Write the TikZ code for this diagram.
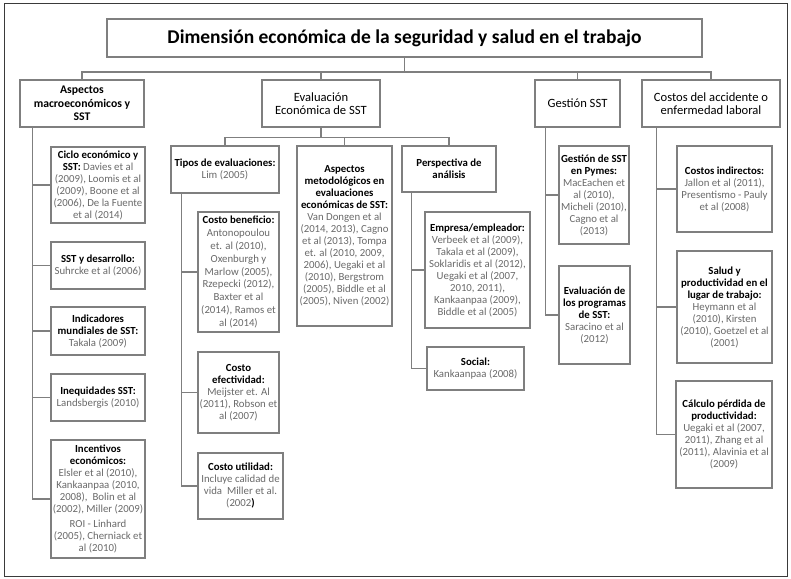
\documentclass[tikz,border=0pt]{standalone}
\usepackage{fontspec}
\setmainfont{Carlito}
\usepackage{tikz}
\usetikzlibrary{calc,positioning}

\definecolor{boxgrey}{HTML}{7F7F7F}
\definecolor{refgrey}{HTML}{6A6A6A}
\definecolor{framegrey}{HTML}{3A3A3A}
\newcommand{\bhead}[1]{\textbf{\color{black}#1}}

\begin{document}
\begin{tikzpicture}[x=1pt,y=-1pt]

\tikzset{titlebox/.style={draw=boxgrey,line width=1.5pt,fill=white,minimum width=595pt,minimum height=38pt,font=\fontsize{19.5}{22}\selectfont\bfseries},
mainbox/.style={draw=boxgrey,line width=1.5pt,fill=white,minimum height=47pt,align=center,inner sep=1pt,font=\fontsize{12.6}{13.5}\selectfont},
leafbox/.style={draw=boxgrey,line width=1.5pt,fill=white,align=center,inner sep=0.5pt,text=refgrey,font=\fontsize{10.8}{12}\selectfont},
link/.style={draw=boxgrey,line width=1.5pt}}

\useasboundingbox (0,0) rectangle (791,578);
\draw[framegrey,line width=1pt] (4,4) rectangle (787,576);

% Title
\node (title) [titlebox] at (404.5,38) {Dimensión económica de la seguridad y salud en el trabajo};

% Main branches
\node (macro) [mainbox,minimum width=124pt,font=\fontsize{11.7}{13.7}\selectfont\bfseries] at (82,103.5) {Aspectos\\macroeconómicos y\\SST};
\node (evaluacion) [mainbox,minimum width=118pt] at (321,103.5) {Evaluación\\Económica de SST};
\node (gestion) [mainbox,minimum width=85pt] at (577.5,103.5) {Gestión SST};
\node (costos) [mainbox,minimum width=138pt] at (711,103.5) {Costos del accidente o\\enfermedad laboral};

% Macro leaves
\node (ciclo) [leafbox,minimum width=94pt,minimum height=76pt] at (98,185) {\bhead{Ciclo económico y}\\\bhead{SST:} Davies et al\\(2009), Loomis et al\\(2009), Boone et al\\(2006), De la Fuente\\et al (2014)};
\node (desarrollo) [leafbox,minimum width=94pt,minimum height=47pt] at (98,265.5) {\bhead{SST y desarrollo:}\\Suhrcke et al (2006)};
\node (indicadores) [leafbox,minimum width=94pt,minimum height=48pt] at (98,331) {\bhead{Indicadores}\\\bhead{mundiales de SST:}\\Takala (2009)};
\node (inequidades) [leafbox,minimum width=94pt,minimum height=47pt] at (98,397.5) {\bhead{Inequidades SST:}\\Landsbergis (2010)};
\node (incentivos) [leafbox,minimum width=94pt,minimum height=118pt] at (98,499) {\bhead{Incentivos}\\\bhead{económicos:}\\Elsler et al (2010),\\Kankaanpaa (2010,\\2008),~ Bolin et al\\(2002), Miller (2009)\\[3pt]ROI - Linhard\\(2005), Cherniack et\\al (2010)};

% Evaluacion sub-branches
\node (tipos) [leafbox,minimum width=108pt,minimum height=47pt] at (225,169.5) {\bhead{Tipos de evaluaciones:}\\Lim (2005)};
\node (metodo) [leafbox,minimum width=95pt,minimum height=180pt] at (344.5,236) {\bhead{Aspectos}\\\bhead{metodológicos en}\\\bhead{evaluaciones}\\\bhead{económicas de SST:}\\Van Dongen et al\\(2014, 2013), Cagno\\et al (2013), Tompa\\et. al (2010, 2009,\\2006), Uegaki et al\\(2010), Bergstrom\\(2005), Biddle et al\\(2005), Niven (2002)};
\node (perspectiva) [leafbox,minimum width=94pt,minimum height=46pt] at (449,169) {\bhead{Perspectiva de}\\\bhead{análisis}};

% Tipos leaves
\node (beneficio) [leafbox,minimum width=81pt,minimum height=120pt,font=\fontsize{10.8}{12.8}\selectfont] at (238.5,272) {\bhead{Costo beneficio:}\\Antonopoulou\\et. al (2010),\\Oxenburgh y\\Marlow (2005),\\Rzepecki (2012),\\Baxter et al\\(2014), Ramos et\\al (2014)};
\node (efectividad) [leafbox,minimum width=81pt,minimum height=81pt] at (238.5,392.5) {\bhead{Costo}\\\bhead{efectividad:}\\Meijster et. Al\\(2011), Robson et\\al (2007)};
\node (utilidad) [leafbox,minimum width=85pt,minimum height=66pt] at (240.5,486) {\bhead{Costo utilidad:}\\Incluye calidad de\\vida~ Miller et al.\\(2002\bhead{)}};

% Perspectiva leaves
\node (empresa) [leafbox,minimum width=105pt,minimum height=116pt] at (477.5,270) {\bhead{Empresa/empleador:}\\Verbeek et al (2009),\\Takala et al (2009),\\Soklaridis et al (2012),\\Uegaki et al (2007,\\2010, 2011),\\Kankaanpaa (2009),\\Biddle et al (2005)};
\node (social) [leafbox,minimum width=97pt,minimum height=43pt] at (475.5,368.5) {\bhead{Social:}\\Kankaanpaa (2008)};

% Gestion leaves
\node (pymes) [leafbox,minimum width=70pt,minimum height=98pt] at (594,195) {\bhead{Gestión de SST}\\\bhead{en Pymes:}\\MacEachen et\\al (2010),\\Micheli (2010),\\Cagno et al\\(2013)};
\node (programas) [leafbox,minimum width=71pt,minimum height=98pt] at (594.5,315) {\bhead{Evaluación de}\\\bhead{los programas}\\\bhead{de SST:}\\Saracino et al\\(2012)};

% Costos leaves
\node (indirectos) [leafbox,minimum width=95pt,minimum height=86pt] at (724.5,189) {\bhead{Costos indirectos:}\\Jallon et al (2011),\\Presentismo - Pauly\\et al (2008)};
\node (saludprod) [leafbox,minimum width=95pt,minimum height=112pt] at (724.5,307) {\bhead{Salud y}\\\bhead{productividad en el}\\\bhead{lugar de trabajo:}\\Heymann et al\\(2010), Kirsten\\(2010), Goetzel et al\\(2001)};
\node (calculo) [leafbox,minimum width=96pt,minimum height=107pt] at (724,434.5) {\bhead{Cálculo pérdida de}\\\bhead{productividad:}\\Uegaki et al (2007,\\2011), Zhang et al\\(2011), Alavinia et al\\(2009)};

%% Edges
\foreach \child in {macro,evaluacion,gestion,costos}
	\draw[link] (title.south) -- ++(0,14) -| (\child.north);
\foreach \child in {tipos,metodo,perspectiva}
	\draw[link] (evaluacion.south) -- ++(0,9.5) -| (\child.north);

\foreach \leaf in {ciclo,desarrollo,indicadores,inequidades,incentivos}
	\draw[link] ([xshift=13pt]macro.south west) |- (\leaf.west);
\foreach \leaf in {beneficio,efectividad,utilidad}
	\draw[link] ([xshift=11pt]tipos.south west) |- (\leaf.west);
\foreach \leaf in {empresa,social}
	\draw[link] ([xshift=10pt]perspectiva.south west) |- (\leaf.west);
\foreach \leaf in {pymes,programas}
	\draw[link] ([xshift=11pt]gestion.south west) |- (\leaf.west);
\foreach \leaf in {indirectos,saludprod,calculo}
	\draw[link] ([xshift=15pt]costos.south west) |- (\leaf.west);
\end{tikzpicture}
\end{document}
